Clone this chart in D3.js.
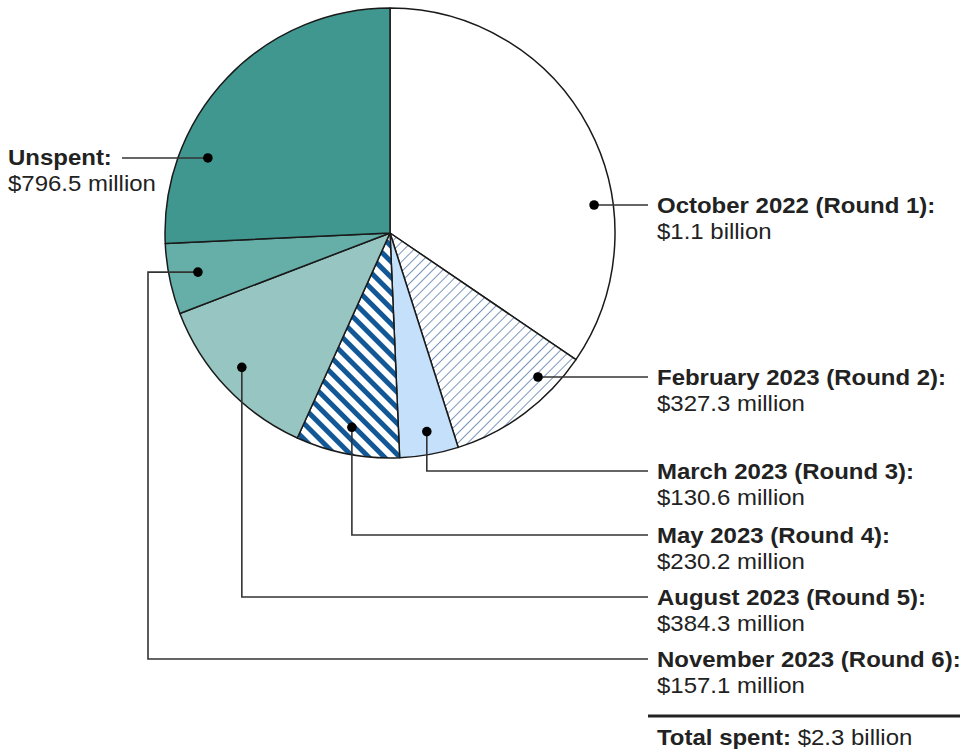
<!DOCTYPE html>
<html>
<head>
<meta charset="utf-8">
<script src="https://cdn.jsdelivr.net/npm/d3@7"></script>
<style>
  html, body { margin: 0; padding: 0; background: #fff; }
  svg { display: block; }
  text { font-family: "Liberation Sans", Arial, sans-serif; fill: #222; }
</style>
</head>
<body>
<svg id="chart" width="962" height="749"></svg>
<script>
// ---- Data ----
const categories = ["October 2022 (Round 1):", "February 2023 (Round 2):", "March 2023 (Round 3):",
  "May 2023 (Round 4):", "August 2023 (Round 5):", "November 2023 (Round 6):", "Unspent:"];
const valuesMillions = [1068, 327.3, 130.6, 230.2, 384.3, 157.1, 796.5];
const valueLabels = ["$1.1 billion", "$327.3 million", "$130.6 million", "$230.2 million",
  "$384.3 million", "$157.1 million", "$796.5 million"];
const totalLabelBold = "Total spent:";
const totalLabelValue = " $2.3 billion";

// ---- Styles / layout ----
const fills = ["#ffffff", "url(#hatchThin)", "#c4e0fa", "url(#hatchThick)", "#97c6c2", "#66aea8", "#40978f"];
const cx = 390, cy = 233, R = 225;
// dot anchors: [angle in degrees clockwise from top, radius]
const dotPolar = [[82.2, 206], [133.8, 205], [169.5, 202], [191.1, 198], [227.8, 200], [258.5, 196], [292.4, 197]];
const labelX = 657, lineEndX = 648;
const labelY = [205, 377, 471, 535, 597, 659]; // line y for right-side labels
const fontSize = 22, xStretch = 1.09;

const svg = d3.select("#chart");
const defs = svg.append("defs");
const p1 = defs.append("pattern").attr("id", "hatchThin").attr("patternUnits", "userSpaceOnUse")
  .attr("width", 7).attr("height", 7).attr("patternTransform", "rotate(45)");
p1.append("rect").attr("width", 7).attr("height", 7).attr("fill", "#fff");
p1.append("line").attr("x1", 0).attr("y1", 0).attr("x2", 0).attr("y2", 7)
  .attr("stroke", "#4f74a6").attr("stroke-width", 1.5);
const p2 = defs.append("pattern").attr("id", "hatchThick").attr("patternUnits", "userSpaceOnUse")
  .attr("width", 11).attr("height", 11).attr("patternTransform", "rotate(-45)");
p2.append("rect").attr("width", 11).attr("height", 11).attr("fill", "#fff");
p2.append("rect").attr("x", 0).attr("y", 0).attr("width", 5).attr("height", 11).attr("fill", "#135896");

const pie = d3.pie().sort(null).value(d => d)(valuesMillions);
const arc = d3.arc().innerRadius(0).outerRadius(R);
const g = svg.append("g").attr("transform", `translate(${cx},${cy})`);
g.selectAll("path").data(pie).join("path")
  .attr("d", arc)
  .attr("fill", (d, i) => fills[i])
  .attr("stroke", "#1a1a1a").attr("stroke-width", 1.5).attr("stroke-linejoin", "round");

function polar(i) {
  const a = dotPolar[i][0] * Math.PI / 180, r = dotPolar[i][1];
  return [cx + r * Math.sin(a), cy - r * Math.cos(a)];
}

const leaders = svg.append("g").attr("fill", "none").attr("stroke", "#333").attr("stroke-width", 1.6);
const dots = svg.append("g");
categories.forEach((c, i) => {
  const [x, y] = polar(i);
  let pts;
  if (i === 6) {
    pts = [[x, y], [122, y]];
  } else if (i === 5) {
    pts = [[x, y], [148, y], [148, labelY[i]], [lineEndX, labelY[i]]];
  } else if (i <= 1) {
    pts = [[x, labelY[i]], [lineEndX, labelY[i]]];
  } else {
    pts = [[x, y], [x, labelY[i]], [lineEndX, labelY[i]]];
  }
  leaders.append("path").attr("d", d3.line()(pts));
  dots.append("circle").attr("cx", x).attr("cy", i <= 1 ? labelY[i] : y).attr("r", 4.8).attr("fill", "#000");
});

const labels = svg.append("g").attr("font-size", fontSize);
function addText(x, y) {
  return labels.append("text").attr("transform", `translate(${x},${y}) scale(${xStretch},1)`);
}
categories.forEach((c, i) => {
  let x, y;
  if (i === 6) { x = 8; y = 165; }
  else { x = labelX; y = labelY[i] + 8; }
  addText(x, y).attr("font-weight", "bold").text(c);
  addText(x, y + 26).text(valueLabels[i]);
});

svg.append("line").attr("x1", 648).attr("x2", 960).attr("y1", 716).attr("y2", 716)
  .attr("stroke", "#222").attr("stroke-width", 3);
const t = addText(labelX, 745);
t.append("tspan").attr("font-weight", "bold").text(totalLabelBold);
t.append("tspan").text(totalLabelValue);
</script>
</body>
</html>
